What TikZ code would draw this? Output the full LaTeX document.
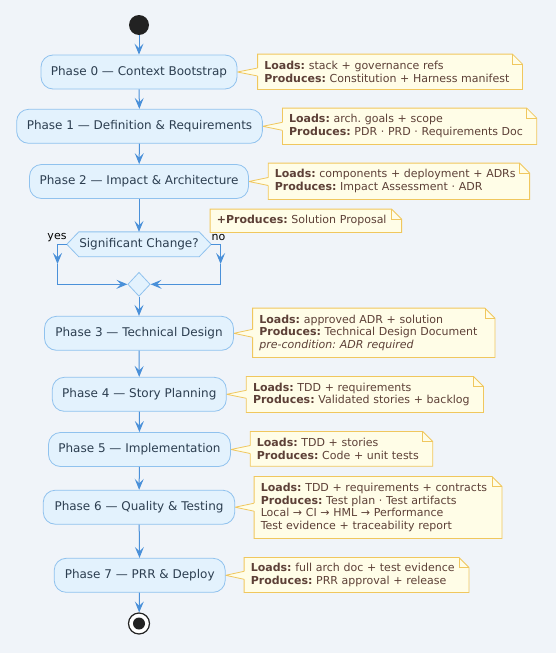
\documentclass[tikz,border=0pt]{standalone}
\usepackage{fontspec}
\setmainfont{DejaVu Sans}
\usetikzlibrary{arrows.meta,shapes.geometric,calc}
\definecolor{bgc}{HTML}{F0F4F9}
\definecolor{actfill}{HTML}{E3F2FD}
\definecolor{actline}{HTML}{90C2EE}
\definecolor{arrc}{HTML}{4A90D9}
\definecolor{notefill}{HTML}{FFFDE7}
\definecolor{noteline}{HTML}{F0C75E}
\definecolor{notetext}{HTML}{5D4037}
\definecolor{acttext}{HTML}{2C3E50}
\definecolor{darkc}{HTML}{222222}
\pgfdeclarelayer{bglayer}
\pgfdeclarelayer{notelayer}
\pgfsetlayers{bglayer,notelayer,main}
\frenchspacing
\tikzset{
  act/.style={draw=actline, fill=actfill, rounded corners=12pt, line width=0.8pt,
    minimum height=34pt, inner sep=0pt, font=\fontsize{12}{14}\selectfont, text=acttext},
  notenode/.style={inner xsep=6.5pt, inner ysep=0pt, font=\fontsize{11}{12.8}\selectfont\frenchspacing,
    text=notetext, align=left},
  noteshape/.style={draw=noteline, fill=notefill, line width=0.8pt},
  flow/.style={draw=arrc, line width=1pt, -{Stealth[length=11pt,width=9pt,inset=4.5pt]}},
  lbl/.style={font=\fontsize{11}{13}\selectfont, text=black, inner sep=0pt},
}
\newcommand\mknote[6]{%
  \pgfmathsetmacro\nbW{#3-#2}\pgfmathsetmacro\nbH{#5-#4}\pgfmathsetmacro\nbT{#3-#2-13}%
  \node[notenode, minimum width=\nbW pt, minimum height=\nbH pt, text width=\nbT pt]
    (#1) at ({(#2+#3)/2},{(#4+#5)/2}) {#6};
  \begin{pgfonlayer}{notelayer}
    \path[noteshape] (#1.north west) -- ([xshift=-10pt]#1.north east)
      -- ([yshift=-10pt]#1.north east) -- (#1.south east) -- (#1.south west) -- cycle;
    \draw[draw=noteline, line width=0.8pt] ([xshift=-10pt]#1.north east) |- ([yshift=-10pt]#1.north east);
  \end{pgfonlayer}}
\newcommand\wedgeto[2]{%
  \begin{pgfonlayer}{notelayer}
    \fill[notefill] (#1.east) -- ($(#1.east -| #2.west)+(0,4pt)$) -- ($(#1.east -| #2.west)+(1.2pt,4pt)$)
      -- ($(#1.east -| #2.west)+(1.2pt,-4pt)$) -- ($(#1.east -| #2.west)+(0,-4pt)$) -- cycle;
    \draw[noteline, line width=0.8pt] ($(#1.east -| #2.west)+(0,4pt)$) -- (#1.east)
      -- ($(#1.east -| #2.west)+(0,-4pt)$);
  \end{pgfonlayer}}
\begin{document}
\begin{tikzpicture}[x=1pt,y=-1pt]
\begin{pgfonlayer}{bglayer}
  \fill[bgc] (0,0) rectangle (556,653);
\end{pgfonlayer}
\useasboundingbox (0,0) rectangle (556,653);

% start / end
\node[circle, fill=darkc, minimum size=20pt, inner sep=0pt] (start) at (139,25) {};
\node[circle, draw=darkc, fill=white, line width=1.2pt, minimum size=21pt, inner sep=0pt] (stop) at (139,623.5) {};
\node[circle, fill=darkc, minimum size=12pt, inner sep=0pt] (stopin) at (stop.center) {};

% activities
\node[act, minimum width=196pt]   (p0) at (139,72)    {Phase 0 — Context Bootstrap};
\node[act, minimum width=245.7pt] (p1) at (139.5,126.3) {Phase 1 — Definition \& Requirements};
\node[act, minimum width=219pt]   (p2) at (139,181.5) {Phase 2 — Impact \& Architecture};
\node[act, minimum width=189pt]   (p3) at (139,333.3) {Phase 3 — Technical Design};
\node[act, minimum width=174pt]   (p4) at (139.3,394.3) {Phase 4 — Story Planning};
\node[act, minimum width=182pt]   (p5) at (139.5,449.5) {Phase 5 — Implementation};
\node[act, minimum width=191.5pt] (p6) at (139,507.2) {Phase 6 — Quality \& Testing};
\node[act, minimum width=171pt]   (p7) at (139.7,575.3) {Phase 7 — PRR \& Deploy};

% decision and merge
\node[inner sep=0pt, minimum width=144pt, minimum height=24.5pt, font=\fontsize{12}{14}\selectfont, text=acttext]
  (dec) at (139,244.3) {Significant Change?};
\begin{pgfonlayer}{notelayer}
  \path[draw=actline, fill=actfill, line width=0.8pt] (dec.west) -- ([xshift=12pt]dec.north west)
    -- ([xshift=-12pt]dec.north east) -- (dec.east) -- ([xshift=-12pt]dec.south east)
    -- ([xshift=12pt]dec.south west) -- cycle;
\end{pgfonlayer}
\node[diamond, draw=actline, fill=actfill, line width=0.8pt, minimum width=22.4pt, minimum height=24pt, inner sep=0pt]
  (merge) at (139,284.3) {};
\node[lbl] (yeslbl) at (57,237.5) {yes};
\node[lbl] (nolbl) at (218.5,237.5) {no};
\coordinate (yesmid) at (57.5,264);
\coordinate (nomid) at (220.6,264);

% notes
\mknote{n0}{257.8}{522.3}{54.3}{89.3}{\textbf{Loads:} stack + governance refs\\\textbf{Produces:} Constitution + Harness manifest}
\mknote{n1}{282.6}{536.5}{108.3}{144.3}{\textbf{Loads:} arch. goals + scope\\\textbf{Produces:} PDR · PRD · Requirements Doc}
\mknote{n2}{268.4}{529.4}{163.3}{199.3}{\textbf{Loads:} components + deployment + ADRs\\\textbf{Produces:} Impact Assessment · ADR}
\mknote{ns}{210.3}{401.4}{209.3}{232.3}{\textbf{+Produces:} Solution Proposal}
\mknote{n3}{252.8}{494.7}{308.3}{357.3}{\textbf{Loads:} approved ADR + solution\\\textbf{Produces:} Technical Design Document\\\textit{pre-condition: ADR required}}
\mknote{n4}{246.5}{483.3}{376.7}{412.3}{\textbf{Loads:} TDD + requirements\\\textbf{Produces:} Validated stories + backlog}
\mknote{n5}{250.4}{432.6}{431.7}{466}{\textbf{Loads:} TDD + stories\\\textbf{Produces:} Code + unit tests}
\mknote{n6}{254.3}{501.8}{476.7}{538.3}{\textbf{Loads:} TDD + requirements + contracts\\\textbf{Produces:} Test plan · Test artifacts\\Local → CI → HML → Performance\\Test evidence + traceability report}
\mknote{n7}{244.3}{468.8}{557.7}{592.3}{\textbf{Loads:} full arch doc + test evidence\\\textbf{Produces:} PRR approval + release}

\wedgeto{p0}{n0}
\wedgeto{p1}{n1}
\wedgeto{p2}{n2}
\wedgeto{p3}{n3}
\wedgeto{p4}{n4}
\wedgeto{p5}{n5}
\wedgeto{p6}{n6}
\wedgeto{p7}{n7}

% flows
\draw[flow] (start) -- (p0);
\draw[flow] (p0) -- (p1);
\draw[flow] (p1) -- (p2);
\draw[flow] (p2.south) -- (dec.north);
\draw[flow] (dec.west) -| (yesmid);
\draw[flow] (yesmid) |- (merge.west);
\draw[flow] (dec.east) -| (nomid);
\draw[flow] (nomid) |- (merge.east);
\draw[flow] (merge) -- (p3);
\draw[flow] (p3) -- (p4);
\draw[flow] (p4) -- (p5);
\draw[flow] (p5) -- (p6);
\draw[flow] (p6) -- (p7);
\draw[flow] (p7) -- (stop);
\end{tikzpicture}
\end{document}
